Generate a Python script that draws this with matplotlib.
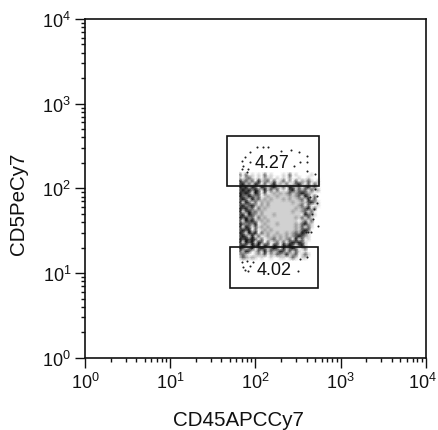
import numpy as np
import matplotlib
matplotlib.use("Agg")
import matplotlib.pyplot as plt
from matplotlib.patches import Rectangle
from matplotlib.transforms import ScaledTranslation

plt.rcParams["font.family"] = ["Liberation Sans", "DejaVu Sans"]
plt.rcParams["mathtext.fontset"] = "custom"
plt.rcParams["mathtext.rm"] = "Liberation Sans"

# gates: x low, x high, y low, y high
upper_gate = [46.4, 557, 106, 414]
lower_gate = [50.3, 543, 6.65, 20.3]
gate_labels = ["4.27", "4.02"]
label_x = [157, 165]
label_y = [204, 11.1]

# single events away from the dense part, log10 of the value
sparse_logx = [2.015, 2.085, 2.152, 2.300, 2.414, 2.512, 2.610, 2.610, 1.937, 1.878, 1.839,
               1.858, 1.937, 1.839, 1.917, 1.898, 2.523, 2.457, 2.602, 2.700,
               1.839, 1.898, 1.937, 1.858, 1.917, 1.975, 2.504, 2.523, 2.602, 1.878,
               2.719, 2.738, 2.680, 2.594, 2.620, 2.650, 2.700, 2.725, 2.690, 2.660, 2.640]
sparse_logy = [2.484, 2.491, 2.491, 2.444, 2.456, 2.425, 2.378, 2.314, 2.425, 2.366, 2.326,
               2.267, 2.307, 2.228, 2.228, 2.189, 2.307, 2.267, 2.208, 2.169,
               1.126, 1.145, 1.086, 1.067, 1.027, 1.126, 1.027, 1.168, 1.185, 1.039,
               1.913, 1.558, 1.637, 1.481, 1.481, 1.481, 1.990, 1.830, 1.760, 1.700, 1.900]

# dot density, top row first
# ' ' empty, '.' light, '-' mid, '+' dark, '#' black
cloud_x = [65.9, 589]
cloud_y = [7.2, 307]
cloud = [
    "",
    "",
    "",
    "",
    "",
    "",
    "",
    "",
    "",
    "+ + . . + .   . + .    .   ",
    ". -+. . -.. . . -  .  .    ",
    "#-+.+ #.-+ + .+ - + -.+. . ",
    "+#.+ #+ + -#.- + .+#- + +. ",
    "#+#.#+ #+.+#-.+ #+.+ +#.+  ",
    "+#+#-#+ #.+ + . +#.+-+ +.- ",
    "#+#+ #+ + .-.-.-+.-+#+-.   ",
    "#+-#+-+ .-..-...-.-+ #+ +  ",
    "+#+ #-+.-.-...-.-..-+ #.+  ",
    "# #+ + -.-.......-..-.+#-. ",
    "+#-+#-.-.-.........-+ +  . ",
    "#+#-+ +.-.........-.-+#.+  ",
    "# +#-+.-.........-..-+ +   ",
    "+# #+-.-...-........ #+-.  ",
    "#+#-+ +.-.........-.+ +.   ",
    "+ #+#-.-.-......... .+ +   ",
    "#+-+-# .-...-.....-.+#-.   ",
    "# #+ +.-.-........-.+ +.   ",
    "+#+# + .-.-.......-.+#+    ",
    "#+ #+# +.-..-..-.-+-#+.    ",
    "+#+ # + .-.-.-.-.-+#+-.    ",
    "#+#+#+ + .-+.-.-+ # + .    ",
    "# #+# #+ + .+ + +#+#+.     ",
    "+#+ #+# #+ #+ #+#+ +#.     ",
    "#+.+# +#+.+#+ #.+#+ .+     ",
    "+.#+ .+ #.+.-#+.+ +. .     ",
    "-+.  .-.+ -.+-.#.-+ .+.    ",
    ".+-.-. .  .  .. .+. ..     ",
    "",
    "",
    "",
    "",
    "",
    "",
    "",
    "",
    "",
]

grey_levels = [1.0, 0.82, 0.62, 0.36, 0.05]
level_chars = " .-+#"

fig = plt.figure(figsize=(4.38, 4.31), dpi=100)
ax = fig.add_axes([85 / 438, 1 - 358.7 / 431, 340.7 / 438, 338.7 / 431])
ax.set_xscale("log")
ax.set_yscale("log")
ax.set_xlim(1, 1e4)
ax.set_ylim(1, 1e4)

rows = [r.ljust(27) for r in cloud][::-1]
cells = np.array([[grey_levels[level_chars.index(c)] for c in r] for r in rows])
xcenters = np.logspace(np.log10(cloud_x[0]), np.log10(cloud_x[1]), cells.shape[1])
ycenters = np.logspace(np.log10(cloud_y[0]), np.log10(cloud_y[1]), cells.shape[0])
ax.pcolormesh(xcenters, ycenters, cells, cmap="gray", vmin=0, vmax=1, shading="gouraud", zorder=1)
ax.scatter(10 ** np.array(sparse_logx), 10 ** np.array(sparse_logy), s=2.2, color="#222222",
           linewidths=0, zorder=2)

for gate in [upper_gate, lower_gate]:
    ax.add_patch(Rectangle((gate[0], gate[2]), gate[1] - gate[0], gate[3] - gate[2],
                           fill=False, edgecolor="#111111", linewidth=1.2, zorder=3))
for s, x, y in zip(gate_labels, label_x, label_y):
    ax.text(x, y, s, fontsize=13, ha="center", va="center", color="#111111", zorder=4)

decades = [1, 10, 100, 1000, 10000]
tick_labels = ["$\\mathregular{10^{%d}}$" % i for i in range(5)]
for axis in [ax.xaxis, ax.yaxis]:
    axis.set_ticks(decades, tick_labels)
    axis.set_minor_locator(matplotlib.ticker.LogLocator(base=10, subs=range(2, 10), numticks=12))
    axis.set_minor_formatter(matplotlib.ticker.NullFormatter())
    for t in axis.get_minor_ticks():
        if t.get_loc() > 0 and str(t.get_loc())[0] == "5":
            t.tick1line.set_markersize(4.5)
ax.tick_params(which="major", length=7, width=1, labelsize=13, pad=3, color="#111111", labelcolor="#111111")
ax.tick_params(which="minor", length=3, width=1, color="#111111")
for spine in ax.spines.values():
    spine.set_linewidth(1.2)
    spine.set_color("#111111")

# keep the last x label inside the picture
last = ax.get_xticklabels()[-1]
last.set_transform(last.get_transform() + ScaledTranslation(-3 / 100, 0, fig.dpi_scale_trans))

fig.text(238 / 438, 1 - 421 / 431, "CD45APCCy7", fontsize=14.8, ha="center", va="center", color="#111111")
fig.text(19 / 438, 1 - 204 / 431, "CD5PeCy7", fontsize=14.8, rotation=90, ha="center", va="center", color="#111111")

fig.savefig("out.png", dpi=100)
